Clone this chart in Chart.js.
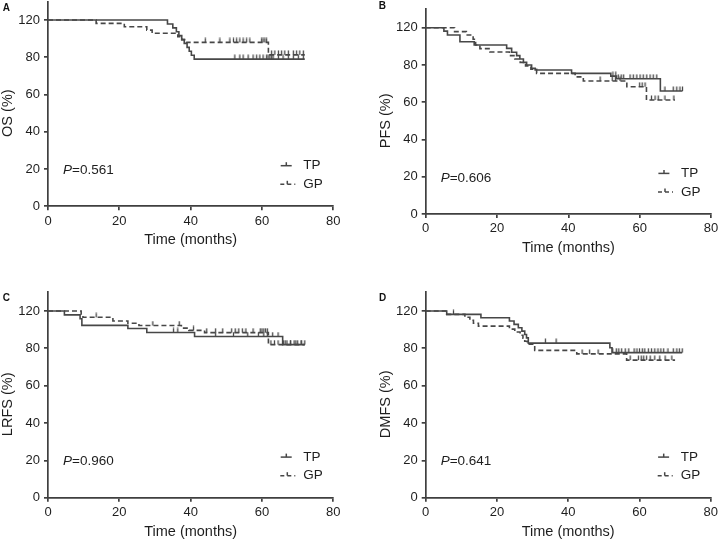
<!DOCTYPE html>
<html>
<head>
<meta charset="utf-8">
<script src="https://cdn.jsdelivr.net/npm/chart.js@4.4.1/dist/chart.umd.min.js"></script>
<style>
  html, body { margin: 0; padding: 0; background: #ffffff; }
  body { width: 718px; height: 541px; position: relative; overflow: hidden; }
  canvas { position: absolute; }
</style>
</head>
<body>
<script>
// ---------------- DATA ----------------
const xTickValues = [0, 20, 40, 60, 80];
const yTickValues = [0, 20, 40, 60, 80, 100];
const yTickLabels = ['0', '20', '40', '60', '80', '120'];
const groupNames = ['TP', 'GP'];

// Panel A: OS
const osTP = [[0,100],[33.5,97.9],[35,95.8],[36,93.7],[36.7,91.6],[37.5,89.5],[38.2,87.4],[39,85.3],[39.6,83.2],[40.2,81.1],[41,79],[72,79]];
const osGP = [[0,100],[13.5,98.2],[21.4,96.4],[27.7,94.6],[29.2,92.9],[36.4,91.1],[37.5,89.5],[38.8,88],[61.8,81.3],[72,81.3]];
const osTPCensor = [52.4,53.8,54.7,56.1,57.5,58.5,59.4,60.3,61.3,61.7,62.2,62.7,63.1,64.6,65.9,67.4,68.8,70.2,71.6];
const osGPCensor = [44.1,48.2,51,52,52.9,53.8,54.7,55.7,56.6,59.9,60.3,60.8,61.3,62.7,63.6,64.6,65.5,66.4,67.4,68.8,69.7,70.6,71.6];

// Panel B: PFS
const pfsTP = [[0,100],[5.1,98.2],[6.1,96.1],[9.6,92.5],[13.6,90.7],[22.7,88.9],[24.1,86.8],[25.5,85.0],[26.4,83.2],[27.4,81.4],[28.3,80.0],[29.7,78.2],[30.7,77.3],[40.9,75.5],[51.9,74.0],[53.5,72.6],[65.8,66.0],[72,66.0]];
const pfsGP = [[0,100],[8.1,97.9],[11.4,96.1],[13.3,93.8],[14.0,90.7],[15.2,88.8],[18.0,87.0],[23.5,85.0],[25,83.2],[26.5,81.4],[28,79.5],[29.5,77.7],[31.1,75.5],[41.9,73.6],[44.2,71.4],[56.4,68.3],[61.9,61.2],[69.9,61.2]];
const pfsTPCensor = [52.5,53.3,54,54.8,55.5,57.3,58.2,59.2,60.1,61,62,62.9,63.8,64.8,67.1,69.4,70.4,71.3,72];
const pfsGPCensor = [48.9,52.3,53.2,54.5,60,60.7,61.5,63.3,64.3,65.2,67.1,69.6];

// Panel C: LRFS
const lrfsTP = [[0,100],[4.6,97.9],[9.0,95.8],[9.5,92.3],[22.4,90.6],[27.7,88.5],[41.1,86.3],[65.8,82.0],[72,82.0]];
const lrfsGP = [[0,100],[9.3,97.9],[9.8,96.6],[18.2,94.6],[22.4,93.4],[25.5,92.2],[37.4,90.8],[39.5,89.6],[43.9,88.4],[61.8,82.0],[72,82.0]];
const lrfsTPCensor = [35.2,36.4,47,52,56,59,60.5,61.5,63,64.5,66.5,68,69.5,71];
const lrfsGPCensor = [13.5,29.4,36.8,40.8,44.5,47,49,51.5,52.5,53.5,54.5,55.5,57.5,59.5,60,60.5,61,61.5,62.5,63.5,64.5,66,67,68,69,70,71,72];

// Panel D: DMFS
const dmfsTP = [[0,100],[5.9,98.2],[15.5,96.4],[23.5,94.6],[24.8,92.8],[26,91.0],[27,89.2],[27.8,87.4],[28.3,85.6],[28.8,82.8],[51.7,80.3],[52.3,77.7],[72,77.7]];
const dmfsGP = [[0,100],[5.9,98.2],[11.0,96.6],[12.4,95.0],[13.4,93.4],[14.8,91.9],[23.5,90.3],[25,88.7],[26.5,87.0],[27.3,85.4],[27.8,83.8],[28.5,82.2],[30.6,78.9],[42.4,77.0],[56.4,73.7],[70,73.7]];
const dmfsTPCensor = [33.6,36.6,52.5,53.5,54.2,55,56,57,58.5,59.3,60,60.8,61.5,62.5,63.4,64.3,65.2,66,66.8,68,69.5,70.5,71.2,72];
const dmfsGPCensor = [7.8,43.9,46,48.4,57.4,59.7,60.5,61.2,62,63,64.3,65.7,67.2,69.1];

const panelLetters = ['A', 'B', 'C', 'D'];
const yTitles = ['OS (%)', 'PFS (%)', 'LRFS (%)', 'DMFS (%)'];
const pValues = ['0.561', '0.606', '0.960', '0.641'];
const xTitle = 'Time (months)';

// ---------------- LAYOUT / STYLE ----------------
const FONT = 'Arial, "Liberation Sans", Helvetica, sans-serif';
const LINE = '#474747';
const AXIS = '#3f3f3f';
const TEXT = '#1e1e1e';

// chart-area rectangles in page pixels (left, top (=110), right (=80 months), bottom (=0))
const geom = [
  { l: 48,    t: 1.4,   r: 333.3, b: 206.3, lx: 2.7,   ly: 8.3 },
  { l: 425.7, t: 9.1,   r: 711,   b: 214,   lx: 378.7, ly: 6.7 },
  { l: 48,    t: 292.3, r: 333.3, b: 497.7, lx: 2.7,   ly: 298.5 },
  { l: 425.7, t: 292.3, r: 710.7, b: 497.7, lx: 379,   ly: 298.3 }
];

const panels = [
  { tp: osTP,   gp: osGP,   tpc: osTPCensor,   gpc: osGPCensor },
  { tp: pfsTP,  gp: pfsGP,  tpc: pfsTPCensor,  gpc: pfsGPCensor },
  { tp: lrfsTP, gp: lrfsGP, tpc: lrfsTPCensor, gpc: lrfsGPCensor },
  { tp: dmfsTP, gp: dmfsGP, tpc: dmfsTPCensor, gpc: dmfsGPCensor }
];

function toXY(arr) { return arr.map(p => ({ x: p[0], y: p[1] })); }
function levelAt(curve, t) {
  let v = curve[0][1];
  for (const p of curve) { if (p[0] <= t) v = p[1]; }
  return v;
}
function censorXY(curve, times) { return times.map(t => ({ x: t, y: levelAt(curve, t) })); }

function makeTick() {
  const c = document.createElement('canvas');
  c.width = 3; c.height = 10;
  const g = c.getContext('2d');
  g.strokeStyle = LINE; g.lineWidth = 1.3;
  g.beginPath(); g.moveTo(1.5, 0.5); g.lineTo(1.5, 5); g.stroke();
  return c;
}
const tickImg = makeTick();

const Y_AXIS_W = 55;
const X_AXIS_H = 46.7;

const decorPlugin = {
  id: 'decor',
  afterDraw(chart) {
    const o = chart.options.plugins.decor;
    const ctx = chart.ctx;
    const ca = chart.chartArea;
    const ys = chart.scales.y;
    ctx.save();
    // panel letter
    ctx.fillStyle = '#111';
    ctx.font = 'bold 10px ' + FONT;
    ctx.textAlign = 'left';
    ctx.textBaseline = 'middle';
    ctx.fillText(o.letter, o.letterX, o.letterY);
    // y title
    ctx.save();
    ctx.translate(ca.left - 40, ys.getPixelForValue(50));
    ctx.rotate(-Math.PI / 2);
    ctx.font = '14.5px ' + FONT;
    ctx.fillStyle = TEXT;
    ctx.textAlign = 'center';
    ctx.textBaseline = 'middle';
    ctx.fillText(o.yTitle, 0, 0);
    ctx.restore();
    // P value
    const py = ca.bottom - 36.2;
    let px = ca.left + 15;
    ctx.fillStyle = TEXT;
    ctx.textBaseline = 'middle';
    ctx.textAlign = 'left';
    ctx.font = 'italic 13.5px ' + FONT;
    ctx.fillText('P', px, py);
    px += ctx.measureText('P').width;
    ctx.font = '13.5px ' + FONT;
    ctx.fillText('=' + o.p, px, py);
    // legend
    const rows = [ { y: ca.bottom - 40.6, dash: [], x0: ca.right - 52.6, x1: ca.right - 41.6, name: groupNames[0] },
                   { y: ca.bottom - 22,   dash: [4, 3], x0: ca.right - 53, x1: ca.right - 38, name: groupNames[1] } ];
    for (const r of rows) {
      ctx.strokeStyle = LINE;
      ctx.lineWidth = 1.5;
      ctx.setLineDash(r.dash);
      ctx.beginPath(); ctx.moveTo(r.x0, r.y); ctx.lineTo(r.x1, r.y); ctx.stroke();
      ctx.setLineDash([]);
      const tx = r.dash.length ? ca.right - 46 : ca.right - 47;
      ctx.beginPath(); ctx.moveTo(tx, r.y); ctx.lineTo(tx, r.y - 3.5); ctx.stroke();
      ctx.fillStyle = TEXT;
      ctx.font = '13.5px ' + FONT;
      ctx.fillText(r.name, ca.right - 30, r.y);
    }
    ctx.restore();
  }
};

panels.forEach((pn, i) => {
  const g = geom[i];
  const cx0 = Math.floor(g.l - 62);
  const cy0 = Math.floor(g.t - 20);
  const W = Math.ceil(g.r - cx0 + 32);
  const H = Math.ceil(g.b - cy0 + 62);
  const cv = document.createElement('canvas');
  cv.width = W; cv.height = H;
  cv.style.left = cx0 + 'px'; cv.style.top = cy0 + 'px';
  cv.style.width = W + 'px'; cv.style.height = H + 'px';
  document.body.appendChild(cv);

  const pad = {
    left: g.l - cx0 - Y_AXIS_W,
    top: g.t - cy0,
    right: cx0 + W - g.r,
    bottom: cy0 + H - g.b - X_AXIS_H
  };

  const baseLine = { showLine: true, stepped: 'before', pointRadius: 0, borderColor: LINE, borderWidth: 1.6, fill: false };
  const baseCensor = { showLine: false, pointStyle: tickImg, pointRadius: 3, borderColor: LINE, backgroundColor: LINE };

  new Chart(cv, {
    type: 'line',
    data: {
      datasets: [
        Object.assign({ label: groupNames[1], data: toXY(pn.gp), borderDash: [5, 3] }, baseLine),
        Object.assign({ label: groupNames[0], data: toXY(pn.tp), borderDash: [] }, baseLine),
        Object.assign({ label: groupNames[1] + ' censored', data: censorXY(pn.gp, pn.gpc) }, baseCensor),
        Object.assign({ label: groupNames[0] + ' censored', data: censorXY(pn.tp, pn.tpc) }, baseCensor)
      ]
    },
    options: {
      responsive: false,
      animation: false,
      devicePixelRatio: 1,
      events: [],
      layout: { padding: pad },
      plugins: {
        legend: { display: false },
        tooltip: { enabled: false },
        decor: { letter: panelLetters[i], letterX: g.lx - cx0, letterY: g.ly - cy0, yTitle: yTitles[i], p: pValues[i] }
      },
      scales: {
        x: {
          type: 'linear', min: 0, max: 80,
          afterBuildTicks: s => { s.ticks = xTickValues.map(v => ({ value: v })); },
          afterFit: s => { s.height = X_AXIS_H; },
          ticks: { font: { family: FONT, size: 13 }, color: TEXT, padding: 3, maxRotation: 0, autoSkip: false },
          grid: { display: true, drawOnChartArea: false, drawTicks: true, tickLength: 4, color: AXIS, lineWidth: 1.7 },
          border: { display: true, color: AXIS, width: 1.7 },
          title: { display: true, text: xTitle, color: TEXT, font: { family: FONT, size: 14.5 }, padding: { top: 0, bottom: 4 } }
        },
        y: {
          type: 'linear', min: 0, max: 110,
          afterBuildTicks: s => { s.ticks = yTickValues.map(v => ({ value: v })); },
          afterFit: s => { s.width = Y_AXIS_W; },
          ticks: { font: { family: FONT, size: 13 }, color: TEXT, padding: 4, autoSkip: false,
                   callback: v => yTickLabels[yTickValues.indexOf(v)] },
          grid: { display: true, drawOnChartArea: false, drawTicks: true, tickLength: 4, color: AXIS, lineWidth: 1.7 },
          border: { display: true, color: AXIS, width: 1.7 }
        }
      }
    },
    plugins: [decorPlugin]
  });
});
</script>
</body>
</html>
